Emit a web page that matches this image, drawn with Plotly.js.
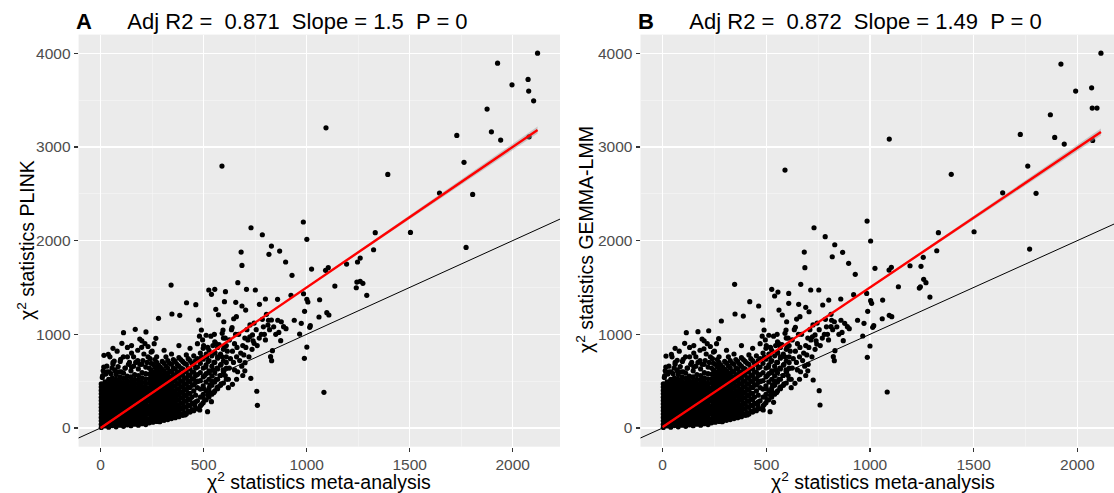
<!DOCTYPE html>
<html><head><meta charset="utf-8">
<script src="https://cdn.plot.ly/plotly-3.0.1.min.js"></script>
<style>html,body{margin:0;padding:0;background:#fff}#chart{width:1114px;height:493px}</style>
</head><body><div id="chart"></div><script>
// ---------- DATA ----------
// Saturated core near the origin (shared by both panels; visually identical)
const coreColX = [3,21,39,57,75,93,111,129,147,165,183,201,219];
const coreColY = [
 [5,41,77,113,149,185,221,257,293,329,365,401,437,470],
 [22,58,94,130,166,202,238,274,310,346,382,418,454,492],
 [8,44,80,116,152,188,224,260,296,332,368,404,440,476,520],
 [26,62,98,134,170,206,242,278,314,350,386,422,458,494,535],
 [12,48,84,120,156,192,228,264,300,336,372,408,444,480,520,570],
 [30,66,102,138,174,210,246,282,318,354,390,426,462,500,545],
 [18,54,90,126,162,198,234,270,306,342,378,414,450,488,530,585],
 [34,70,106,142,178,214,250,286,322,358,394,430,468,508,555],
 [24,60,96,132,168,204,240,276,312,348,384,420,458,498,545,610],
 [40,76,112,148,184,220,256,292,328,364,400,438,478,520,570],
 [30,66,102,138,174,210,246,282,318,354,390,428,468,510,560,630],
 [46,82,118,154,190,226,262,298,334,370,408,448,490,535,590],
 [36,72,108,144,180,216,252,288,324,360,398,438,480,525,580,650]
];
// Band of points along the fit (x 236-610), thinning to the right
const bandColX = [236,245,254,263,272,281,290,299,308,317,326,335,344,353,362,371,380,389,398,407,416,425,434,443,452,461,470,484,498,512,526,540,554,568,582,596,610];
const bandColY = [
 [55,100,150,195,240,290,335,380,430,480,525,575,640],
 [80,128,175,225,272,320,368,418,466,515,565,620,690],
 [62,110,158,205,255,300,350,398,445,495,548,600,680],
 [88,136,185,232,280,330,378,428,478,530,585,650,730],
 [70,118,165,215,262,312,360,410,460,512,565,625,700,760],
 [95,145,192,242,292,342,392,442,495,548,605,670],
 [75,125,172,222,272,322,372,422,475,528,585,650],
 [100,150,200,252,302,355,405,458,510,565,625,710],
 [82,135,185,235,285,335,390,440,495,550,610,690,830],
 [110,162,212,262,315,368,420,472,528,585,660,760],
 [90,145,195,248,300,352,405,458,515,570,640,720],
 [118,172,222,275,328,380,434,490,545,605,690],
 [100,155,210,262,315,370,425,480,540,600,680,790],
 [128,182,236,290,345,398,452,510,570,640,730],
 [110,170,225,280,335,390,448,505,565,630,710],
 [140,195,250,305,360,418,475,535,600,680],
 [120,180,240,298,355,412,470,530,595,660,750,880],
 [150,210,268,325,385,442,500,565,640,730],
 [135,200,262,322,380,440,500,565,630,710],
 [165,228,290,350,412,472,535,605,690],
 [150,220,285,345,405,468,530,600,680,780],
 [180,245,310,372,435,500,565,640,740],
 [170,240,305,370,432,495,560,635,720,850],
 [195,262,330,460,525,600,690],
 [185,262,395,460,525,595,680,770],
 [210,280,350,490,560,640,720],
 [205,290,430,500,570,650,740,900],
 [235,330,415,505,590,690,800],
 [270,360,450,545,640,735,850],
 [300,395,490,580,675,790],
 [330,425,520,610,720,830],
 [360,455,555,660,770],
 [395,490,590,700,810,920],
 [420,520,630,745,860],
 [455,560,670,790],
 [480,600,715,840,960],
 [520,640,760,880]
];
// Scattered points of medium density (shared)
const midX = [495,500,505,510,515,520,495,530,540,545,550,555,560,535,570,580,585,590,600,605,620,625,630,640,650,655,665,675,680,690,700,710,720,735,745,760,780,790,800,820,850,860,
  480,490,500,512,522,528,545,552,565,568,575,590,595,610,615,625,635,645,660,662,670,685,695,705,715,725,740,755,770,785,795,815,840,865,900,940,530,560,605,650,
  490,505,520,550,565,585,620,660,690,700,
  10,30,15,50,70,90,60,120,140,110,160,180,200,150,230,250,215,190,130,60,
  8,25,12,40,55,30,70,85,100,118,60,95,135,150,170,190,205,225,240,160,130,210,245,180,230,260,150,200,80,45];
const midY = [330,420,560,650,760,860,940,380,500,620,700,800,900,980,440,560,680,760,860,960,520,640,740,820,900,1000,600,720,800,880,960,1050,760,840,1120,880,1000,1080,940,1050,1000,1150,
  980,760,880,990,710,590,880,1000,640,760,890,1010,620,700,820,940,1050,700,760,860,1000,660,780,860,940,1100,930,1050,960,1160,1000,1150,1080,1020,1060,1150,460,520,560,620,
  250,300,350,380,430,470,430,520,560,610,
  560,600,650,580,620,600,680,640,700,760,660,720,680,800,760,820,900,950,860,850,
  540,575,610,600,640,660,610,655,600,640,700,710,680,650,700,680,720,700,740,760,760,790,810,830,870,900,880,930,820,760];
// Panel A outliers: chi2 meta-analysis vs chi2 PLINK
const plinkX = [589,730,984,2121,1927,1997,2075,2078,2102,1876,1897,1729,1942,2080,1094,1764,1394,1645,1806,
 1001,1333,1504,1774,1325,1024,1092,1105,1194,1247,1260,1137,1241,1244,1260,1273,1292,985,1001,1006,1063,990,1060,1098,1108,974,1015,1018,966,1001,989,1084,
 785,829,869,817,682,686,898,929,666,342,525,554,606,538,708,751,601,656,800,859,924,417,462,559,771,686,281,346,384,476,572,598,646,659,704,805,812,829,877,888,168,220,111,489,594,638,724,737,745,874,268,199,103,16,37,66,97,834,825,830,701,729,598,640,758,761,519,481,538,409,457,287];
const plinkY = [2796,2138,2199,4002,3895,3664,3721,3597,3493,3405,3162,3124,3074,3109,3205,2836,2707,2508,2494,
 2014,2085,2088,1928,1903,1697,1683,1711,1750,1772,1814,1515,1497,1558,1566,1544,1416,1433,1373,1345,1369,1245,1185,1231,1206,1117,1075,1092,1003,864,744,381,
 2063,1942,1889,1854,1878,1736,1772,1630,1551,1526,1473,1480,1455,1427,1480,1473,1348,1341,1377,1373,1416,1337,1316,1267,1320,1302,1171,1217,1203,1153,1209,1134,1166,1188,1259,1213,1099,1153,1134,1081,1053,1025,1017,1046,1046,1071,974,993,904,932,957,861,904,776,787,715,733,825,761,718,697,530,608,466,392,242,174,192,281,139,245,67];
// Panel B outliers: chi2 meta-analysis vs chi2 GEMMA-LMM
const gemmaX = [590,730,986,2114,1921,1992,2069,2072,2095,1870,1891,1725,1937,2074,1093,1761,1392,1640,1801,
 1003,1330,1502,1770,1322,1024,1092,1103,1193,1246,1257,1137,1238,1243,1259,1270,1289,984,1003,1008,1061,989,1059,1093,1105,971,1013,1018,965,1000,987,1083,
 784,830,868,818,683,686,897,929,666,347,526,556,608,540,714,753,608,656,801,859,921,420,463,561,772,690,283,349,389,482,577,598,646,662,706,812,812,828,878,891,170,222,114,489,595,640,722,735,743,871,270,199,106,16,42,70,99,831,823,828,702,726,598,638,755,759,518,485,535,408,458,287];
const gemmaY = [2753,2138,2209,4002,3885,3597,3632,3415,3415,3344,3102,3134,3031,3070,3084,2796,2708,2511,2505,
 1996,2085,2095,1910,1892,1704,1686,1715,1732,1726,1822,1508,1494,1508,1587,1551,1398,1437,1359,1331,1366,1245,1166,1203,1188,1117,1075,1092,982,875,754,384,
 2042,1956,1875,1828,1878,1711,1758,1640,1534,1534,1480,1451,1437,1409,1473,1473,1331,1320,1366,1377,1423,1348,1302,1259,1313,1288,1142,1217,1195,1153,1206,1134,1163,1188,1241,1213,1081,1134,1117,1081,1028,1038,1017,1046,1046,1075,974,993,896,932,953,846,904,768,786,722,733,825,761,718,680,512,601,477,398,245,174,192,274,139,245,67];
// Regression fits (from the panel titles / picture)
const fitA = {slope:1.5, intercept:0, xmin:0, xmax:2121};
const fitB = {slope:1.49, intercept:10, xmin:0, xmax:2114};
const bandKnotsX = [0,500,1000,1500,2121];
const bandHalfW = [10,5,8,20,38];
const titleA = "<b>A</b>      Adj R2 =  0.871  Slope = 1.5  P = 0";
const titleB = "<b>B</b>      Adj R2 =  0.872  Slope = 1.49  P = 0";
const xTitle = "χ<sup>2</sup> statistics meta-analysis";
const yTitleA = "χ<sup>2</sup> statistics PLINK";
const yTitleB = "χ<sup>2</sup> statistics GEMMA-LMM";
const xTicks = [0,500,1000,1500,2000];
const yTicks = [0,1000,2000,3000,4000];

// ---------- BUILD ----------
function flatten(colX, colY){const xs=[],ys=[];colX.forEach((x,i)=>colY[i].forEach(y=>{xs.push(x);ys.push(y);}));return [xs,ys];}
const [cx,cy] = flatten(coreColX, coreColY);
const [bx,by] = flatten(bandColX, bandColY);
const sharedX = cx.concat(bx, midX), sharedY = cy.concat(by, midY);

const W=1114,H=493;
const fx = p=>p/W, fy = p=>1-p/H;
const FONT = "Liberation Sans, Arial, Helvetica, sans-serif";

function panelTraces(xa, ya, ptsX, ptsY, fit){
  const lineX=[fit.xmin,fit.xmax], lineY=lineX.map(v=>fit.intercept+fit.slope*v);
  const polyX = bandKnotsX.map((v,i)=>i===bandKnotsX.length-1?fit.xmax:v);
  const upY = polyX.map((v,i)=>fit.intercept+fit.slope*v+bandHalfW[i]);
  const loY = polyX.map((v,i)=>fit.intercept+fit.slope*v-bandHalfW[i]);
  return [
    {type:'scatter',mode:'lines',x:[-1000,5000],y:[-1000,5000],xaxis:xa,yaxis:ya,line:{color:'#000',width:1},hoverinfo:'skip'},
    {type:'scatter',mode:'markers',x:sharedX.concat(ptsX),y:sharedY.concat(ptsY),xaxis:xa,yaxis:ya,marker:{color:'#000',size:5.2,line:{width:0}}},
    {type:'scatter',mode:'lines',x:polyX.concat(polyX.slice().reverse()),y:upY.concat(loY.slice().reverse()),fill:'toself',fillcolor:'rgba(153,153,153,0.45)',line:{width:0},xaxis:xa,yaxis:ya,hoverinfo:'skip'},
    {type:'scatter',mode:'lines',x:lineX,y:lineY,xaxis:xa,yaxis:ya,line:{color:'#FF0000',width:2.4},hoverinfo:'skip'}
  ];
}
const data = panelTraces('x','y',plinkX,plinkY,fitA).concat(panelTraces('x2','y2',gemmaX,gemmaY,fitB));

const axBase = {
  showline:false, zeroline:false, showgrid:true, gridcolor:'#FFFFFF', gridwidth:1.2,
  ticks:'outside', ticklen:4, tickwidth:1.1, tickcolor:'#333333',
  tickfont:{family:FONT,size:15.5,color:'#4D4D4D'}, automargin:false, fixedrange:true
};
const xa = (dom, rng, anchor)=>Object.assign({},axBase,{domain:dom,range:rng,anchor:anchor,tickmode:'array',tickvals:xTicks,ticktext:xTicks.map(String),
  minor:{tickmode:'array',tickvals:[250,750,1250,1750,2250],showgrid:true,gridcolor:'#F7F7F7',gridwidth:0.6,ticks:''}});
const ya = (anchor)=>Object.assign({},axBase,{domain:[fy(446.7),fy(34.6)],range:[-200,4200],anchor:anchor,tickmode:'array',tickvals:yTicks,ticktext:yTicks.map(String),
  minor:{tickmode:'array',tickvals:[500,1500,2500,3500],showgrid:true,gridcolor:'#F7F7F7',gridwidth:0.6,ticks:''}});

const ann = (text,xp,yp,size,extra)=>Object.assign({text:text,xref:'paper',yref:'paper',x:fx(xp),y:fy(yp),showarrow:false,
  font:{family:FONT,size:size,color:'#000'},xanchor:'center',yanchor:'middle'},extra||{});

const layout = {
  width:W,height:H,margin:{l:0,r:0,t:0,b:0},paper_bgcolor:'#FFFFFF',plot_bgcolor:'#EBEBEB',showlegend:false,
  xaxis:xa([fx(78.6),fx(560)],[-107,2230],'y'),
  yaxis:ya('x'),
  xaxis2:xa([fx(640.5),1],[-107,2177],'y2'),
  yaxis2:ya('x2'),
  annotations:[
    ann(titleA,74,22,22,{xanchor:'left'}),
    ann(titleB,636,22,22,{xanchor:'left'}),
    ann(xTitle,319,481,19.5),
    ann(xTitle,883,481,19.5),
    ann(yTitleA,26,240,19.5,{textangle:-90}),
    ann(yTitleB,585,240,19.5,{textangle:-90})
  ]
};
Plotly.newPlot('chart',data,layout,{staticPlot:true,displayModeBar:false});
</script></body></html>
